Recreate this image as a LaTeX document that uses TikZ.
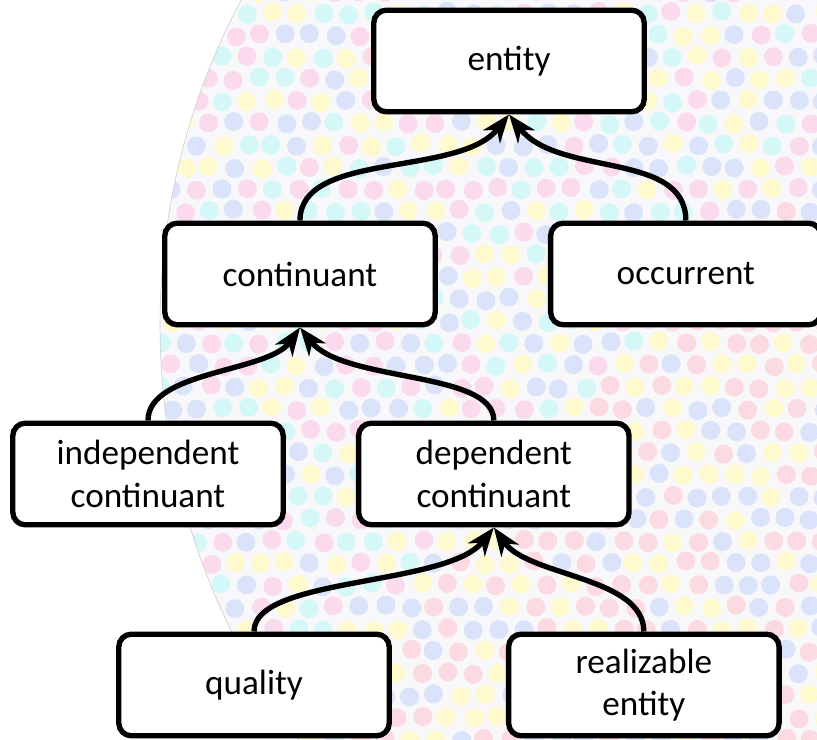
\documentclass[tikz,border=0pt]{standalone}
\usepackage{fontspec}
\setmainfont{Carlito}
\usetikzlibrary{positioning,arrows.meta}

\definecolor{dotyellow}{RGB}{255,250,205}
\definecolor{dotcyan}{RGB}{212,247,247}
\definecolor{dotpink}{RGB}{251,218,238}
\definecolor{dotblue}{RGB}{218,227,249}
\definecolor{dotrose}{RGB}{252,218,225}
\definecolor{discbase}{RGB}{248,248,251}

\begin{document}
\begin{tikzpicture}[x=0.025cm, y=0.025cm,
    classbox/.style={draw, line width=3.8pt, rounded corners=9pt, fill=white,
                     minimum width=6.76cm, minimum height=2.54cm, inner sep=0pt,
                     align=center, font=\fontsize{25}{30}\selectfont},
    isa/.style={line width=3.8pt, -{Stealth[length=20pt, width=15pt, inset=6pt]}},
    dot1/.style={fill=dotyellow}, dot2/.style={fill=dotcyan}, dot3/.style={fill=dotpink},
    dot4/.style={fill=dotblue}, dot5/.style={fill=dotrose}, dot6/.style={fill=dotyellow}]
    \useasboundingbox (0,0) rectangle (817,739);
    % Background
    \begin{scope}
      \clip (850,414) circle[radius=690];
      \fill[discbase] (850,414) circle[radius=690];
      \pgfmathsetseed{31}
      \foreach \r in {0,...,34}{
        \foreach \c in {0,...,27}{
          \pgfmathsetmacro{\gx}{160+25*\c+12.5*mod(\r,2)}
          \pgfmathsetmacro{\gy}{22*\r}
          \pgfmathtruncatemacro{\dotkind}{(\gx-\gy>250) ? random(4,6) : random(1,4)}
          \fill[dot\dotkind] (\gx+rand*2, \gy+rand*2) circle[radius=9.5];
        }
      }
    \end{scope}
    \draw[gray!40, thin] (850,414) circle[radius=690];
    % Nodes
    \node[classbox] (ent) at (509,678) {entity};
    \node[classbox] (cont) at (300,465) {continuant};
    \node[classbox] (occ) [right=2.75cm of cont] {occurrent};
    \node[classbox] (indep) at (148,265) {independent\\continuant};
    \node[classbox] (dep) [right=1.75cm of indep] {dependent\\continuant};
    \node[classbox] (qual) at (254,54) {quality};
    \node[classbox] (real) [right=2.85cm of qual] {realizable\\entity};
    % Lines
    \draw[isa] (cont.north) .. controls +(90:70) and +(-128:80) .. (ent.south);
    \draw[isa] (occ.north) .. controls +(90:70) and +(-52:80) .. (ent.south);
    \draw[isa] (indep.north) .. controls +(90:50) and +(-125:55) .. (cont.south);
    \draw[isa] (dep.north) .. controls +(90:50) and +(-52:70) .. (cont.south);
    \draw[isa] (qual.north) .. controls +(90:55) and +(-128:75) .. (dep.south);
    \draw[isa] (real.north) .. controls +(90:55) and +(-55:60) .. (dep.south);
\end{tikzpicture}
\end{document}
